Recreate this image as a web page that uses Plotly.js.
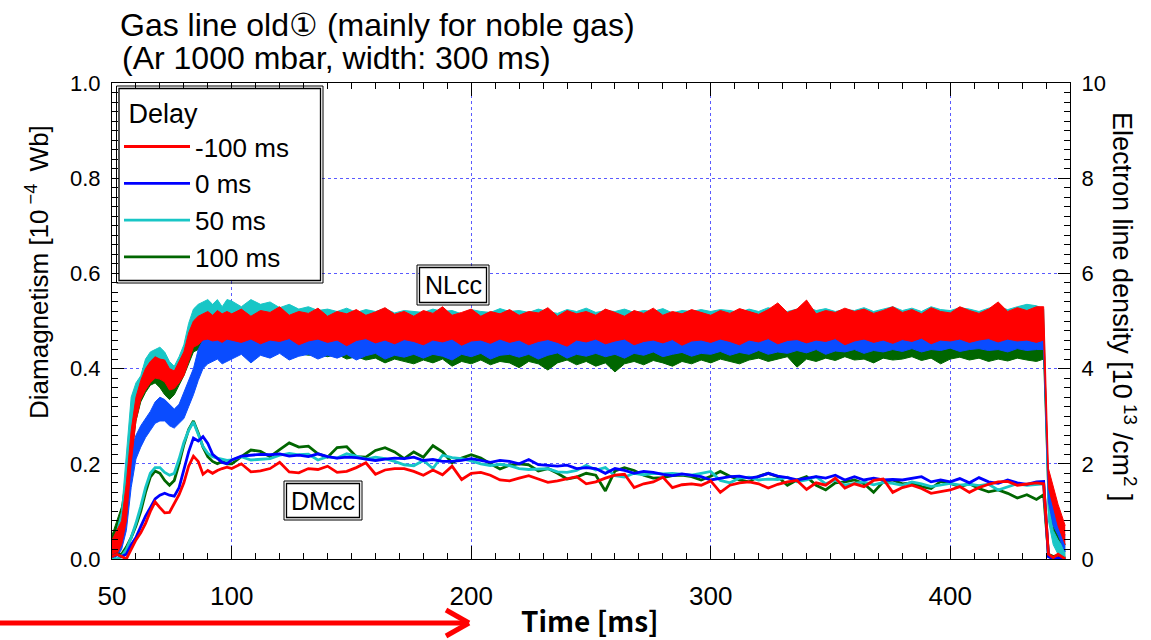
<!DOCTYPE html>
<html><head><meta charset="utf-8">
<script src="https://cdn.plot.ly/plotly-3.0.1.min.js"></script>
<style>html,body{margin:0;padding:0;background:#fff}#chart{width:1151px;height:640px}</style>
</head><body><div id="chart"></div>
<script>
// ---- data ----
const delays = ['-100 ms', '0 ms', '50 ms', '100 ms'];
const time = [50,52,54,56,58,60,62,64,66,68,70,72,74,76,78,80,82,84,86,88,90,92,94,96,98,
100,104,108,112,116,120,124,128,132,136,
140,144,148,152,156,160,164,168,172,176,
180,184,188,192,196,200,204,208,212,216,
220,224,228,232,236,240,244,248,252,256,
260,264,268,272,276,280,284,288,292,296,
300,304,308,312,316,320,324,328,332,336,
340,344,348,352,356,360,364,368,372,376,
380,384,388,392,396,400,404,408,412,416,
420,424,428,432,436,
439,441,443,445,448];

// Diamagnetism (DMcc) [1e-4 Wb]
const dmRed = [0.005,0.01,0.005,0.0,0.02,0.04,0.055,0.075,0.1,0.12,0.108,0.097,0.098,0.115,0.135,0.16,0.195,0.216,0.205,0.178,0.186,0.18,0.186,0.19,0.193,
0.19,0.2,0.183,0.185,0.19,0.203,0.183,0.181,0.19,0.188,
0.195,0.182,0.184,0.192,0.202,0.178,0.187,0.19,0.19,0.184,
0.176,0.187,0.177,0.195,0.167,0.18,0.182,0.176,0.166,0.164,
0.17,0.175,0.168,0.161,0.164,0.168,0.173,0.158,0.162,0.17,
0.176,0.178,0.15,0.158,0.162,0.172,0.15,0.156,0.158,0.155,
0.164,0.14,0.155,0.16,0.162,0.158,0.149,0.157,0.162,0.165,
0.146,0.16,0.155,0.17,0.149,0.158,0.152,0.165,0.168,0.14,
0.15,0.155,0.148,0.138,0.142,0.145,0.152,0.14,0.15,0.157,
0.162,0.163,0.155,0.158,0.16,
0.158,0.01,0.003,0.01,0.0];
const dmBlue = [0.005,0.01,0.005,0.01,0.03,0.045,0.068,0.09,0.108,0.126,0.134,0.138,0.134,0.132,0.15,0.185,0.225,0.254,0.248,0.257,0.243,0.22,0.212,0.203,0.2,
0.208,0.216,0.218,0.22,0.219,0.221,0.216,0.218,0.215,0.221,
0.215,0.212,0.214,0.213,0.21,0.207,0.21,0.212,0.211,0.214,
0.207,0.209,0.205,0.205,0.207,0.211,0.207,0.203,0.207,0.205,
0.2,0.209,0.198,0.196,0.195,0.197,0.19,0.192,0.19,0.18,
0.19,0.186,0.18,0.184,0.182,0.178,0.175,0.179,0.176,0.173,
0.166,0.17,0.173,0.174,0.17,0.173,0.18,0.174,0.171,0.166,
0.17,0.173,0.17,0.176,0.166,0.173,0.166,0.17,0.166,0.167,
0.166,0.17,0.173,0.162,0.166,0.162,0.169,0.16,0.171,0.162,
0.159,0.166,0.16,0.157,0.162,
0.163,0.005,0.0,0.002,0.0];
const dmCyan = [0.0,0.0,0.005,0.02,0.045,0.075,0.11,0.15,0.18,0.192,0.192,0.182,0.176,0.18,0.21,0.245,0.27,0.288,0.262,0.236,0.222,0.215,0.212,0.21,0.207,
0.208,0.215,0.208,0.21,0.211,0.218,0.222,0.219,0.22,0.208,
0.215,0.212,0.221,0.216,0.21,0.214,0.211,0.205,0.198,0.196,
0.207,0.19,0.218,0.213,0.211,0.206,0.2,0.196,0.199,0.196,
0.19,0.188,0.189,0.19,0.183,0.182,0.186,0.197,0.187,0.192,
0.175,0.172,0.18,0.177,0.18,0.179,0.18,0.178,0.176,0.18,
0.184,0.165,0.16,0.17,0.172,0.166,0.168,0.167,0.172,0.162,
0.166,0.173,0.158,0.166,0.155,0.159,0.162,0.156,0.161,0.159,
0.155,0.162,0.158,0.152,0.155,0.159,0.155,0.157,0.154,0.157,
0.145,0.152,0.158,0.155,0.156,
0.158,0.005,0.002,0.0,0.0];
const dmGreen = [0.005,0.01,0.01,0.025,0.045,0.07,0.1,0.14,0.172,0.185,0.18,0.165,0.155,0.165,0.2,0.24,0.272,0.29,0.265,0.235,0.215,0.205,0.2,0.205,0.2,
0.2,0.215,0.229,0.226,0.215,0.23,0.244,0.235,0.237,0.221,
0.214,0.234,0.236,0.215,0.214,0.228,0.234,0.225,0.211,0.225,
0.214,0.238,0.225,0.202,0.212,0.219,0.212,0.2,0.189,0.197,
0.2,0.198,0.185,0.19,0.18,0.168,0.172,0.18,0.176,0.143,
0.185,0.192,0.186,0.176,0.17,0.171,0.175,0.176,0.173,0.166,
0.174,0.184,0.174,0.166,0.162,0.174,0.18,0.173,0.155,0.166,
0.173,0.155,0.145,0.16,0.162,0.166,0.158,0.14,0.162,0.166,
0.158,0.16,0.152,0.148,0.163,0.159,0.152,0.158,0.148,0.141,
0.145,0.138,0.128,0.135,0.125,
0.135,0.01,0.005,0.008,0.0];

// Electron line density (NLcc) [1e13 /cm2] : lower / upper edge of the noisy band
const nlRedLo = [0.0,0.1,0.3,0.8,2.0,2.9,3.35,3.55,3.7,3.8,3.78,3.72,3.55,3.58,3.7,3.85,4.15,4.45,4.5,4.6,4.62,4.58,4.6,4.55,4.62,
4.6,4.55,4.62,4.52,4.6,4.57,4.63,4.5,4.58,4.62,
4.55,4.6,4.48,4.59,4.63,4.54,4.6,4.52,4.61,4.57,
4.5,4.6,4.56,4.62,4.49,4.58,4.6,4.53,4.62,4.55,
4.6,4.5,4.57,4.61,4.55,4.47,4.6,4.56,4.62,4.52,
4.58,4.62,4.5,4.57,4.6,4.54,4.61,4.49,4.58,4.6,
4.55,4.62,4.57,4.5,4.6,4.56,4.63,4.52,4.59,4.61,
4.54,4.6,4.57,4.63,4.5,4.58,4.62,4.55,4.6,4.53,
4.61,4.57,4.64,4.52,4.6,4.58,4.62,4.55,4.6,4.63,
4.56,4.62,4.58,4.6,4.55,
4.6,1.5,1.1,0.7,0.3];
const nlRedHi = [0.4,0.6,0.8,1.6,2.7,3.4,3.75,4.0,4.15,4.25,4.2,4.18,4.0,3.95,4.15,4.35,4.75,5.0,5.1,5.15,5.2,5.12,5.22,5.15,5.2,
5.15,5.25,5.1,5.22,5.18,5.3,5.12,5.2,5.16,5.27,
5.1,5.2,5.15,5.24,5.12,5.19,5.28,5.14,5.2,5.1,
5.22,5.16,5.3,5.12,5.18,5.25,5.1,5.2,5.15,5.24,
5.12,5.2,5.17,5.28,5.1,5.22,5.15,5.2,5.12,5.25,
5.18,5.1,5.22,5.16,5.27,5.12,5.2,5.15,5.24,5.18,
5.12,5.22,5.16,5.26,5.2,5.14,5.24,5.38,5.18,5.25,
5.44,5.15,5.22,5.18,5.27,5.2,5.25,5.16,5.22,5.3,
5.18,5.24,5.15,5.28,5.2,5.17,5.3,5.22,5.16,5.25,
5.4,5.2,5.28,5.22,5.3,
5.3,1.9,1.5,1.15,0.7];
const nlCyanLo = [0.0,0.1,0.4,1.2,2.6,3.2,3.5,3.7,3.85,3.95,3.95,3.9,3.75,3.7,3.8,4.0,4.3,4.6,4.7,4.75,4.8,4.8,4.8,4.8,4.8,
4.7,4.78,4.72,4.8,4.68,4.75,4.7,4.78,4.66,4.72,
4.65,4.7,4.62,4.68,4.64,4.7,4.6,4.66,4.7,4.63,
4.68,4.62,4.66,4.7,4.6,4.65,4.68,4.62,4.67,4.63,
4.66,4.6,4.68,4.64,4.62,4.7,4.65,4.6,4.66,4.63,
4.62,4.68,4.64,4.6,4.67,4.63,4.69,4.61,4.65,4.66,
4.6,4.66,4.63,4.68,4.62,4.65,4.6,4.67,4.64,4.62,
4.68,4.63,4.66,4.6,4.65,4.62,4.68,4.64,4.6,4.66,
4.63,4.68,4.62,4.66,4.64,4.6,4.67,4.63,4.65,4.62,
4.66,4.62,4.68,4.64,4.65,
4.7,0.8,0.3,0.1,0.0];
const nlCyanHi = [0.3,0.6,1.0,2.2,3.4,3.7,3.85,4.2,4.35,4.4,4.45,4.35,4.15,4.05,4.25,4.5,4.95,5.25,5.35,5.4,5.45,5.35,5.45,5.3,5.45,
5.42,5.3,5.45,5.35,5.4,5.28,5.35,5.25,5.3,5.22,
5.25,5.2,5.27,5.18,5.24,5.2,5.26,5.17,5.22,5.2,
5.18,5.25,5.2,5.22,5.15,5.24,5.2,5.18,5.26,5.2,
5.22,5.18,5.25,5.2,5.16,5.24,5.2,5.27,5.18,5.22,
5.2,5.25,5.18,5.22,5.2,5.26,5.17,5.22,5.2,5.24,
5.2,5.24,5.22,5.18,5.25,5.2,5.28,5.22,5.2,5.25,
5.3,5.22,5.26,5.2,5.24,5.22,5.28,5.2,5.25,5.3,
5.22,5.27,5.2,5.3,5.24,5.22,5.28,5.25,5.2,5.27,
5.3,5.24,5.3,5.35,5.32,
5.25,1.2,0.6,0.4,0.2];
const nlBlueLo = [0.0,0.05,0.2,0.6,1.5,2.1,2.35,2.55,2.7,2.85,2.9,2.9,2.8,2.75,2.85,2.95,3.2,3.45,3.75,4.0,4.1,4.15,4.2,4.1,4.15,
4.2,4.3,4.12,4.28,4.22,4.32,4.18,4.26,4.3,4.2,
4.28,4.22,4.3,4.18,4.27,4.32,4.2,4.28,4.24,4.3,
4.22,4.3,4.26,4.18,4.3,4.25,4.32,4.2,4.28,4.3,
4.24,4.3,4.2,4.28,4.33,4.22,4.3,4.26,4.32,4.25,
4.3,4.22,4.32,4.28,4.35,4.25,4.3,4.34,4.26,4.32,
4.3,4.36,4.28,4.34,4.3,4.38,4.3,4.35,4.32,4.38,
4.33,4.4,4.3,4.37,4.35,4.4,4.32,4.38,4.35,4.4,
4.36,4.42,4.35,4.4,4.38,4.43,4.36,4.4,4.42,4.38,
4.4,4.35,4.42,4.38,4.4,
4.4,1.2,0.7,0.5,0.15];
const nlBlueHi = [0.2,0.35,0.6,1.3,2.3,2.6,2.8,2.95,3.1,3.3,3.4,3.35,3.25,3.15,3.25,3.5,3.75,4.0,4.4,4.6,4.7,4.75,4.75,4.7,4.8,
4.75,4.7,4.78,4.72,4.76,4.7,4.8,4.74,4.72,4.78,
4.72,4.78,4.74,4.8,4.73,4.76,4.72,4.8,4.75,4.78,
4.74,4.8,4.76,4.72,4.78,4.75,4.8,4.73,4.77,4.8,
4.75,4.78,4.72,4.8,4.76,4.74,4.8,4.77,4.75,4.8,
4.76,4.8,4.74,4.78,4.82,4.76,4.8,4.78,4.82,4.77,
4.8,4.84,4.78,4.82,4.8,4.85,4.79,4.83,4.8,4.86,
4.82,4.86,4.8,4.84,4.82,4.88,4.82,4.86,4.84,4.9,
4.84,4.88,4.82,4.9,4.85,4.88,4.84,4.9,4.86,4.88,
4.86,4.84,4.9,4.85,4.88,
4.85,1.6,1.1,0.85,0.5];
const nlGreenLo = [0.0,0.2,0.6,1.0,2.1,2.9,3.3,3.5,3.65,3.7,3.6,3.45,3.35,3.45,3.65,3.85,4.1,4.35,4.4,4.4,4.35,4.3,4.32,4.28,4.3,
4.3,4.35,4.28,4.33,4.3,4.35,4.3,4.32,4.28,4.3,
4.25,4.3,4.2,4.25,4.18,4.22,4.12,4.2,4.15,4.1,
4.18,4.12,4.2,4.05,4.15,4.1,4.18,4.08,4.15,4.12,
4.02,4.15,4.1,3.97,4.12,4.18,4.08,4.15,4.05,4.12,
3.93,4.1,4.15,4.08,4.17,4.12,4.05,4.15,4.1,4.18,
4.12,4.2,4.15,4.1,4.18,4.22,4.15,4.2,4.25,4.03,
4.2,4.15,4.22,4.17,4.25,4.18,4.2,4.12,4.22,4.18,
4.2,4.25,4.17,4.22,4.1,4.2,4.24,4.18,4.22,4.15,
4.2,4.16,4.22,4.18,4.15,
4.2,1.0,0.5,0.3,0.05];
const nlGreenHi = [0.5,0.8,1.1,1.8,2.8,3.4,3.7,3.95,4.1,4.15,4.05,3.9,3.8,3.85,4.1,4.3,4.7,4.9,4.95,4.95,4.9,4.8,4.75,4.75,4.72,
4.7,4.75,4.68,4.72,4.7,4.74,4.68,4.72,4.7,4.66,
4.68,4.62,4.66,4.6,4.64,4.58,4.62,4.56,4.6,4.55,
4.58,4.52,4.6,4.55,4.62,4.56,4.6,4.54,4.58,4.6,
4.55,4.6,4.52,4.58,4.62,4.55,4.6,4.56,4.62,4.57,
4.6,4.55,4.62,4.58,4.6,4.64,4.57,4.62,4.6,4.65,
4.6,4.65,4.62,4.58,4.66,4.6,4.64,4.62,4.66,4.6,
4.64,4.6,4.66,4.62,4.68,4.63,4.6,4.66,4.62,4.65,
4.62,4.68,4.64,4.6,4.66,4.64,4.68,4.62,4.66,4.64,
4.66,4.62,4.68,4.64,4.62,
4.6,1.4,0.9,0.6,0.3];

// ---- geometry helpers (plot area in px) ----
const PL = 112, PR = 1070, PT = 83, PB = 559;
const fx = p => (p - PL) / (PR - PL);
const fy = p => (PB - p) / (PB - PT);

const C = {red:'#ff0000', blue:'#0000ff', blueNL:'#0a4cff', cyan:'#18c6c6', green:'#006600'};
const FONT = 'Liberation Sans, Arial, sans-serif';

const traces = [];
// NL bands on right axis (yaxis), drawn first: green, cyan, blue, red
const bands = [
  {lo:nlGreenLo, hi:nlGreenHi, color:C.green},
  {lo:nlCyanLo, hi:nlCyanHi, color:C.cyan},
  {lo:nlBlueLo, hi:nlBlueHi, color:C.blueNL},
  {lo:nlRedLo, hi:nlRedHi, color:C.red}
];
bands.forEach(b => {
  traces.push({x:time, y:b.lo, type:'scatter', mode:'lines', xaxis:'x', yaxis:'y',
    line:{color:b.color, width:1}, showlegend:false, hoverinfo:'skip'});
  traces.push({x:time, y:b.hi, type:'scatter', mode:'lines', xaxis:'x', yaxis:'y',
    fill:'tonexty', fillcolor:b.color, line:{color:b.color, width:1}, showlegend:false, hoverinfo:'skip'});
});
// DM lines on left axis (yaxis2)
const dm = [
  {y:dmGreen, color:C.green, name:delays[3], rank:4},
  {y:dmCyan, color:C.cyan, name:delays[2], rank:3},
  {y:dmBlue, color:C.blue, name:delays[1], rank:2},
  {y:dmRed, color:C.red, name:delays[0], rank:1}
];
dm.forEach(d => {
  traces.push({x:time, y:d.y, type:'scatter', mode:'lines', xaxis:'x', yaxis:'y2',
    name:d.name, legendrank:d.rank, line:{color:d.color, width:2.8}, hoverinfo:'skip'});
});

const gridCol = '#5a5aff';
const boxShapes = (x0, x1, y0, y1, gap) => ([
  {type:'rect', xref:'paper', yref:'paper', x0:fx(x0+gap), x1:fx(x1-gap), y0:fy(y0+gap), y1:fy(y1-gap),
    line:{color:'#000', width:1.3}, fillcolor:'#fff', layer:'above'},
  {type:'rect', xref:'paper', yref:'paper', x0:fx(x0), x1:fx(x1), y0:fy(y0), y1:fy(y1),
    line:{color:'#000', width:1}, layer:'above'}
]);

const layout = {
  width:1151, height:640,
  margin:{l:PL, r:1151-PR, t:PT, b:640-PB, pad:0},
  paper_bgcolor:'#fff', plot_bgcolor:'#fff',
  showlegend:true,
  hovermode:false,
  font:{family:FONT, color:'#000'},
  title:{text:'Gas line old\u2460 (mainly for noble gas)',
    x:fx(120), xref:'paper', xanchor:'left', y:1-25/640, yref:'container', yanchor:'middle',
    font:{family:FONT, size:32, color:'#000'}},
  xaxis:{range:[50,450], tickvals:[50,100,200,300,400], ticktext:['50','100','200','300','400'],
    ticks:'inside', ticklen:13, tickwidth:1, tickcolor:'#000',
    minor:{dtick:10, tick0:0, ticks:'inside', ticklen:6, tickcolor:'#000', showgrid:false},
    showline:true, linecolor:'#000', linewidth:1, mirror:'ticks',
    showgrid:true, gridcolor:gridCol, griddash:'dot', gridwidth:1, zeroline:false,
    tickfont:{family:FONT, size:26, color:'#000'},
    ticklabelstandoff:14},
  xaxis3:{range:[50,450], overlaying:'x', anchor:'y', tickvals:[150,250,350], ticks:'inside', ticklen:9,
    tickcolor:'#000', showticklabels:false, showgrid:false, showline:false, mirror:'ticks', zeroline:false},
  yaxis:{range:[0,10], side:'right', dtick:2, tick0:0,
    ticks:'inside', ticklen:12, tickcolor:'#000',
    minor:{dtick:0.2, ticks:'inside', ticklen:6, tickcolor:'#000', showgrid:false},
    showline:true, linecolor:'#000', linewidth:1,
    showgrid:true, gridcolor:gridCol, griddash:'dot', gridwidth:1, zeroline:false,
    tickfont:{family:FONT, size:22, color:'#000'}, ticklabelstandoff:6},
  yaxis2:{range:[0,1], side:'left', overlaying:'y', dtick:0.2, tick0:0, tickformat:'.1f',
    ticks:'inside', ticklen:12, tickcolor:'#000',
    minor:{dtick:0.02, ticks:'inside', ticklen:6, tickcolor:'#000', showgrid:false},
    showline:true, linecolor:'#000', linewidth:1, showgrid:false, zeroline:false,
    tickfont:{family:FONT, size:22, color:'#000'}, ticklabelstandoff:6},
  legend:{x:fx(119), y:fy(88), xanchor:'left', yanchor:'top', bgcolor:'rgba(0,0,0,0)',
    borderwidth:0, itemwidth:66, tracegroupgap:0, traceorder:'normal',
    font:{family:FONT, size:26, color:'#000'},
    title:{text:' Delay', font:{family:FONT, size:27, color:'#000'}}},
  annotations:[
    {text:'(Ar 1000 mbar, width: 300 ms)', xref:'paper', yref:'paper', x:fx(120), y:fy(58),
      xanchor:'left', yanchor:'middle', showarrow:false, font:{family:FONT, size:32, color:'#000'}},
    {text:'Diamagnetism [10<sup> \u22124 </sup> Wb]', xref:'paper', yref:'paper', x:fx(37), y:fy(272),
      xanchor:'center', yanchor:'middle', textangle:-90, showarrow:false, font:{family:FONT, size:26, color:'#000'}},
    {text:'Electron line density [10<sup> 13</sup> /cm<sup>2</sup> ]', xref:'paper', yref:'paper', x:fx(1124), y:fy(306),
      xanchor:'center', yanchor:'middle', textangle:90, showarrow:false, font:{family:FONT, size:27, color:'#000'}},
    {text:'<b>Time [ms]</b>', xref:'paper', yref:'paper', x:fx(590), y:fy(620),
      xanchor:'center', yanchor:'middle', showarrow:false, font:{family:'Noto Sans CJK JP, sans-serif', size:28, color:'#000'}},
    {text:'NLcc', xref:'paper', yref:'paper', x:fx(453), y:fy(285), xanchor:'center', yanchor:'middle', showarrow:false,
      font:{family:FONT, size:25, color:'#000'}},
    {text:'DMcc', xref:'paper', yref:'paper', x:fx(323), y:fy(500.5), xanchor:'center', yanchor:'middle', showarrow:false,
      font:{family:FONT, size:25, color:'#000'}}
  ],
  shapes:[
    ...boxShapes(116.5, 323, 86, 283, 2.5),
    ...boxShapes(417, 489, 265, 305, 2.5),
    ...boxShapes(284, 362, 481, 520, 2.5),
    {type:'line', xref:'paper', yref:'paper', x0:fx(0), x1:fx(466), y0:fy(623), y1:fy(623),
      line:{color:'#ff0000', width:5}},
    {type:'line', xref:'paper', yref:'paper', x0:fx(446), x1:fx(469), y0:fy(610), y1:fy(623),
      line:{color:'#ff0000', width:5}},
    {type:'line', xref:'paper', yref:'paper', x0:fx(446), x1:fx(469), y0:fy(636), y1:fy(623),
      line:{color:'#ff0000', width:5}}
  ]
};

Plotly.newPlot('chart', traces, layout, {displayModeBar:false, staticPlot:true});
</script>
</body></html>
